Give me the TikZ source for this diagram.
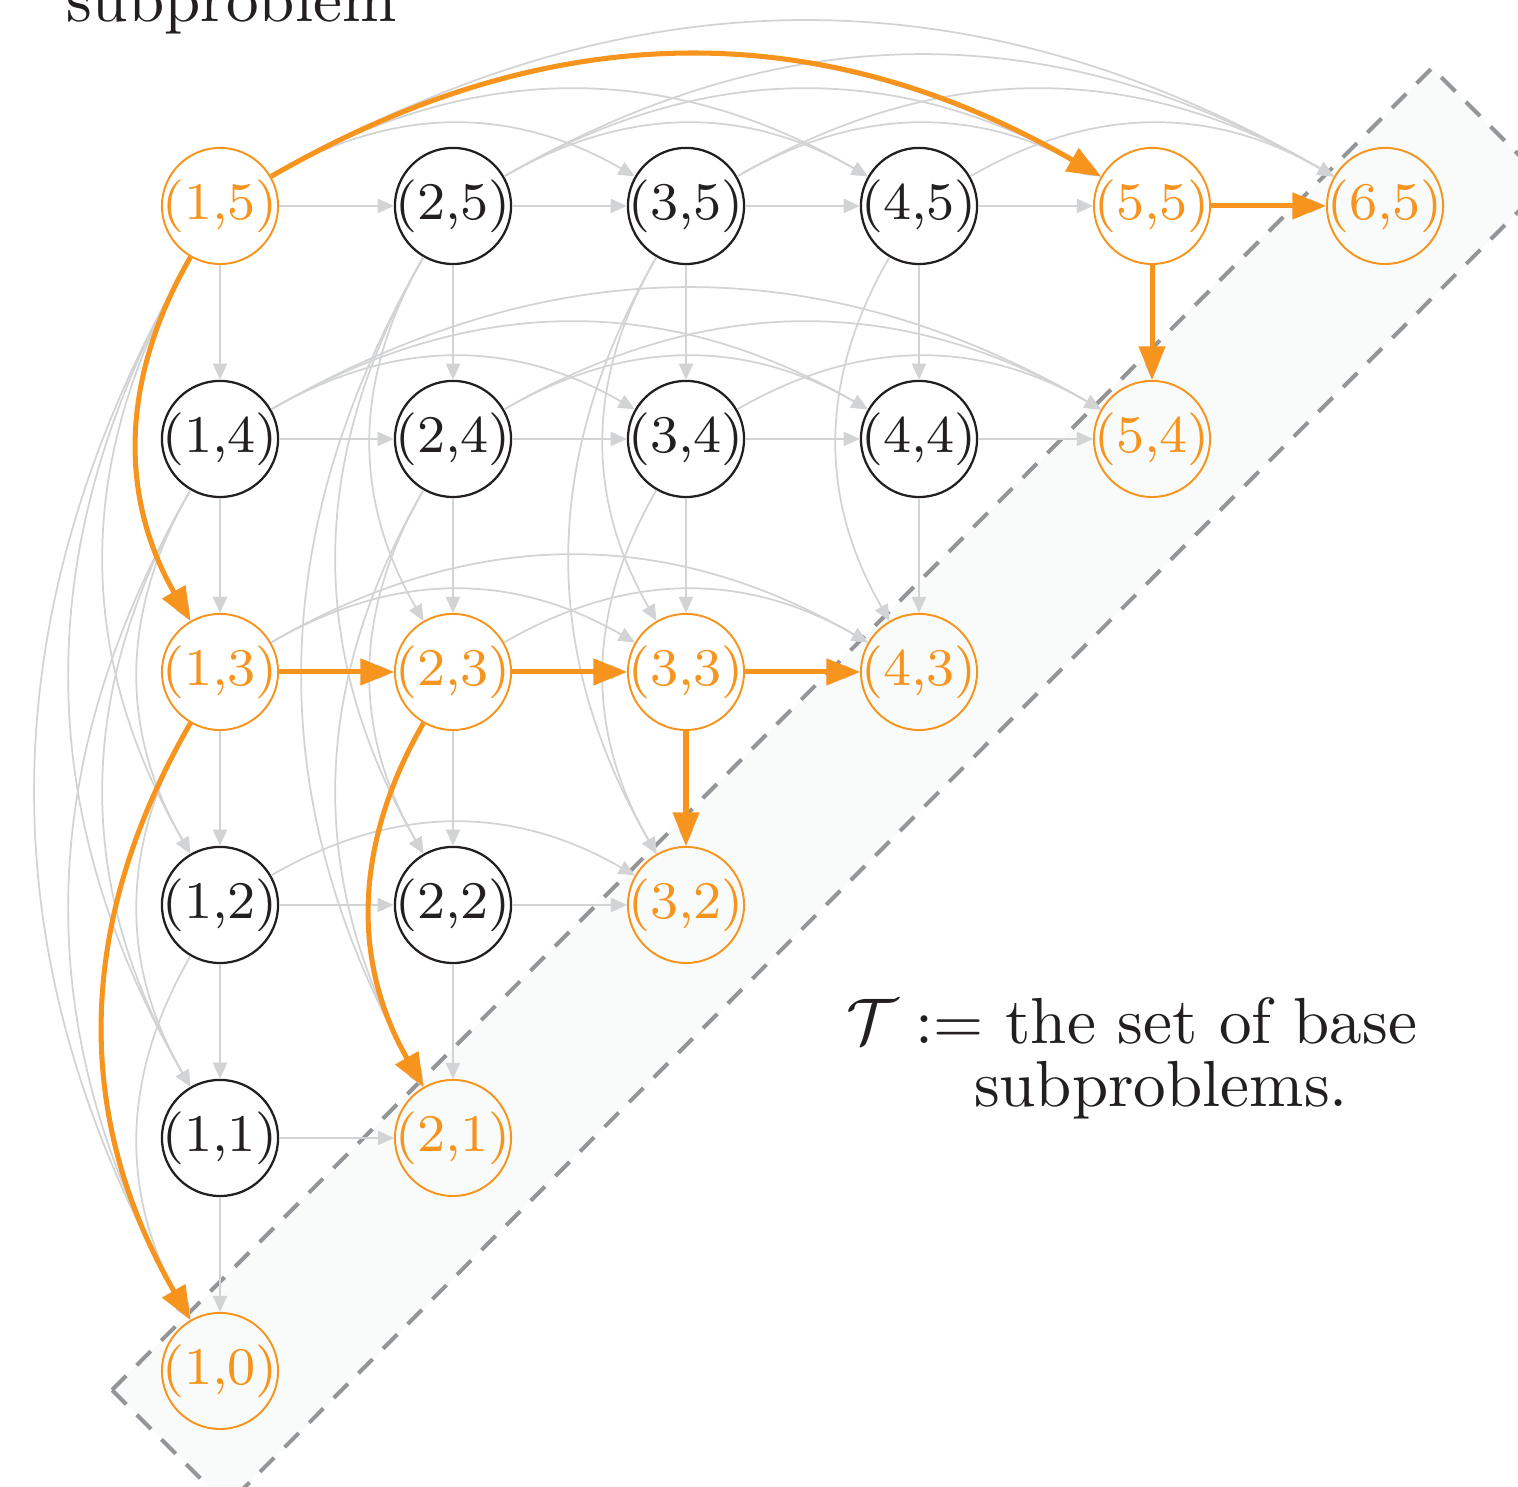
\documentclass[tikz,border=0pt]{standalone}
\usetikzlibrary{arrows.meta}
\definecolor{orng}{RGB}{247,148,29}
\definecolor{edgegray}{RGB}{209,211,212}
\definecolor{ink}{RGB}{35,31,32}
\definecolor{dashgray}{RGB}{147,149,152}
\definecolor{boxfill}{RGB}{249,251,250}
\tikzset{
  subk/.style={circle, draw=ink, line width=0.35pt, minimum size=18pt, inner sep=-3pt,
    text=ink, font=\fontsize{8.2}{10}\selectfont},
  subo/.style={subk, draw=orng, line width=0.3pt, text=orng},
  gedge/.style={draw=edgegray, line width=0.27pt, -{Triangle[length=2.5pt,width=2.2pt]}},
  oedge/.style={draw=orng, line width=0.78pt, -{Triangle[length=5.2pt,width=4pt]}},
  basebox/.style={draw=dashgray, fill=boxfill, line width=0.62pt, dash pattern=on 3.1pt off 2.3pt},
  lbl/.style={inner sep=0pt, text=ink, font=\fontsize{10.1}{9.9}\selectfont}
}
\begin{document}
\begin{tikzpicture}[x=36.115pt, y=36.115pt]
\useasboundingbox (0.0558,-0.4979) rectangle (6.5708,5.8841);
% base-subproblem region
\draw[basebox] (0.5365,-0.0815) -- (6.2017,5.5923) -- (6.6953,5.0987) -- (1.0300,-0.5751) -- cycle;
% nodes
\foreach \i/\j/\s in {1/5/o,2/5/k,3/5/k,4/5/k,5/5/o,6/5/o,
                      1/4/k,2/4/k,3/4/k,4/4/k,5/4/o,
                      1/3/o,2/3/o,3/3/o,4/3/o,
                      1/2/k,2/2/k,3/2/o,
                      1/1/k,2/1/o,
                      1/0/o}{
  \node[sub\s] (n-\i-\j) at (\i,\j) {(\i,\j)};
}
% gray edges
\foreach \j in {1,...,5}{
  \foreach \i in {1,...,\j}{
    \pgfmathtruncatemacro{\ia}{\i+1}
    \pgfmathtruncatemacro{\jb}{\j+1}
    \pgfmathtruncatemacro{\jm}{\j-1}
    \pgfmathtruncatemacro{\im}{\i-1}
    \draw[gedge] (n-\i-\j) -- (n-\ia-\j);
    \draw[gedge] (n-\i-\j) -- (n-\i-\jm);
    \ifnum\jb>\ia
      \pgfmathtruncatemacro{\ib}{\i+2}
      \foreach \k in {\ib,...,\jb}{ \draw[gedge] (n-\i-\j) to[bend left=30] (n-\k-\j); }
    \fi
    \ifnum\jm>\im
      \pgfmathtruncatemacro{\jc}{\j-2}
      \foreach \m in {\jc,...,\im}{ \draw[gedge] (n-\i-\j) to[bend right=30] (n-\i-\m); }
    \fi
  }
}
% orange path edges
\draw[oedge] (n-1-5) to[bend left=30] (n-5-5);
\draw[oedge] (n-1-5) to[bend right=30] (n-1-3);
\draw[oedge] (n-5-5) -- (n-6-5);
\draw[oedge] (n-5-5) -- (n-5-4);
\draw[oedge] (n-1-3) -- (n-2-3);
\draw[oedge] (n-1-3) to[bend right=30] (n-1-0);
\draw[oedge] (n-2-3) -- (n-3-3);
\draw[oedge] (n-2-3) to[bend right=30] (n-2-1);
\draw[oedge] (n-3-3) -- (n-4-3);
\draw[oedge] (n-3-3) -- (n-3-2);
% texts
\node[lbl, anchor=base west] (top) at (0.3348,5.7897) {subproblem};
\node[lbl, anchor=base west, align=left] (tdef) at (3.6824,1.1330)
  {$\mathcal{T}\;{:=}$ the set of base\\\hspace*{19.8pt}subproblems.};
\end{tikzpicture}
\end{document}
